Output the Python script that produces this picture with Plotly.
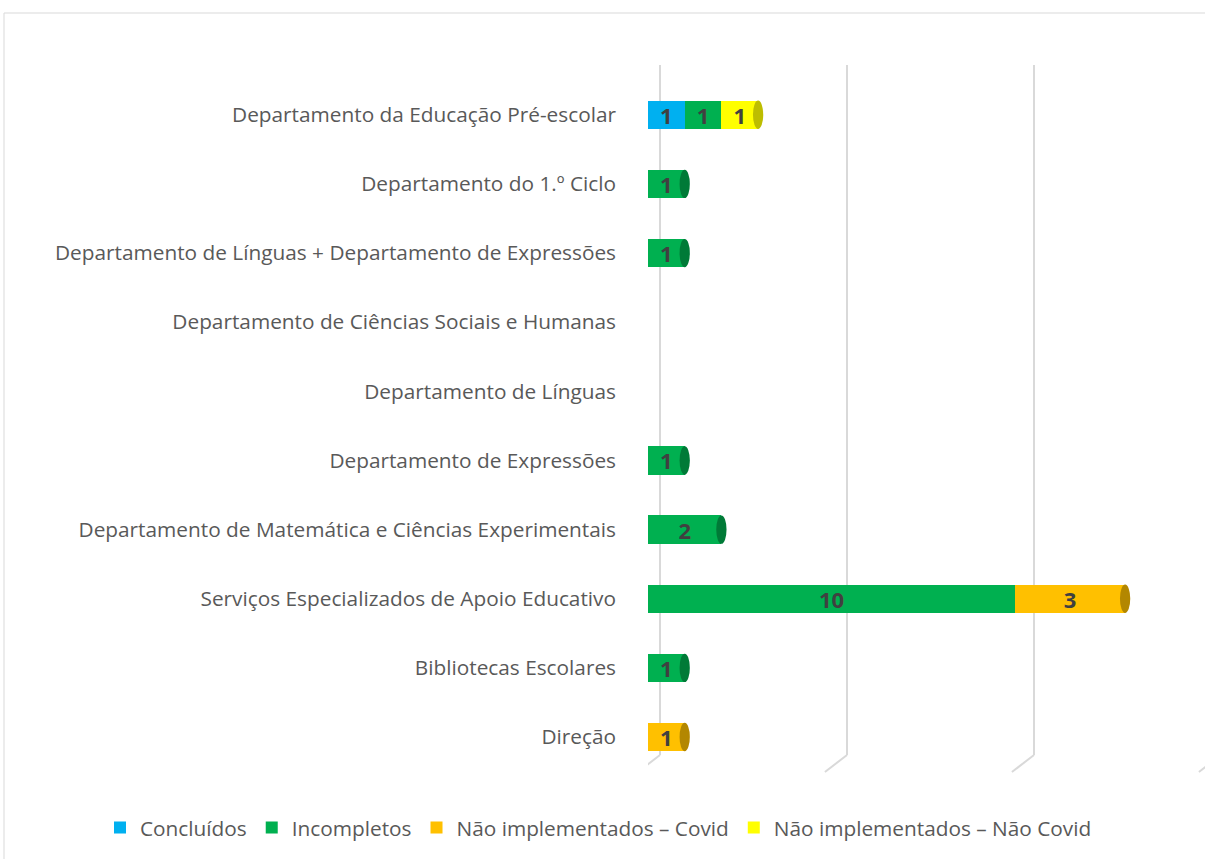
import plotly.graph_objects as go

# categories listed bottom -> top
categorias = [
    "Direção",
    "Bibliotecas Escolares",
    "Serviços Especializados de Apoio Educativo",
    "Departamento de Matemática e Ciências Experimentais",
    "Departamento de Expressões",
    "Departamento de Línguas",
    "Departamento de Ciências Sociais e Humanas",
    "Departamento de Línguas + Departamento de Expressões",
    "Departamento do 1.º Ciclo",
    "Departamento da Educação Pré-escolar",
]

concluidos = [None, None, None, None, None, None, None, None, None, 1]
incompletos = [None, 1, 10, 2, 1, None, None, 1, 1, 1]
nao_impl_covid = [1, None, 3, None, None, None, None, None, None, None]
nao_impl_nao_covid = [None, None, None, None, None, None, None, None, None, 1]

series = [
    ("Concluídos", concluidos, "#00B0F0", "#0084B4"),
    ("Incompletos", incompletos, "#00B050", "#007A37"),
    ("Não implementados – Covid", nao_impl_covid, "#FFC000", "#B38700"),
    ("Não implementados – Não Covid", nao_impl_nao_covid, "#FFFF00", "#BDBD00"),
]

grid_vals = [0, 5, 10, 15]

FONT = "Open Sans"
W, H = 1205, 859
L, R, T, B = 648, 0, 65, 104
plot_w = W - L - R
plot_h = H - T - B
BAR_W = 1 - 0.59

fig = go.Figure()
for nome, vals, cor, _ in series:
    fig.add_trace(go.Bar(
        y=categorias, x=vals, name=nome, orientation="h",
        marker=dict(color=cor, line=dict(width=0)),
        text=[str(v) if v else "" for v in vals],
        textposition="inside", insidetextanchor="middle", textangle=0,
        constraintext="none",
        textfont=dict(family=FONT, size=22, color="#404040", weight="bold"),
    ))

# cylinder end caps: darker ellipse at the end of each stack
for i in range(len(categorias)):
    total, last_dark = 0, None
    for _, vals, _, dark in series:
        if vals[i]:
            total += vals[i]
            last_dark = dark
    if total:
        fig.add_shape(type="circle", xref="x", yref="y", layer="above",
                      x0=total - 0.14, x1=total + 0.14,
                      y0=i - BAR_W / 2, y1=i + BAR_W / 2,
                      fillcolor=last_dark, line=dict(width=0))

# invisible trace to carry the back-wall gridline axis
fig.add_trace(go.Scatter(x=grid_vals, y=[categorias[0]] * 4, xaxis="x2",
                         mode="markers", marker=dict(opacity=0),
                         showlegend=False, hoverinfo="skip"))

# floor lines (perspective diagonals)
for g in grid_vals:
    fig.add_shape(type="line", xref="x2", yref="paper",
                  x0=g, y0=0, x1=g - 0.59, y1=-17 / plot_h,
                  line=dict(color="#D9D9D9", width=2))

# outer chart border
fig.add_shape(type="rect", xref="paper", yref="paper",
              x0=(4 - L) / plot_w, x1=1.05,
              y0=-0.2, y1=(H - B - 13) / plot_h,
              line=dict(color="#D9D9D9", width=1))

fig.update_layout(
    width=W, height=H,
    margin=dict(l=L, r=R, t=T, b=B),
    barmode="stack", bargap=0.59,
    plot_bgcolor="white", paper_bgcolor="white",
    font=dict(family=FONT, size=20.8, color="#595959"),
    showlegend=True,
    legend=dict(orientation="h", traceorder="normal",
                x=(100 - L) / plot_w, xanchor="left",
                y=(H - B - 828) / plot_h, yanchor="middle",
                font=dict(size=20.8, color="#595959"),
                itemwidth=30),
    xaxis=dict(range=[0, plot_w / 36.7], showgrid=False,
               showticklabels=False, zeroline=False, showline=False, ticks=""),
    xaxis2=dict(overlaying="x", anchor="y", range=[-12 / 37.4, (plot_w - 12) / 37.4],
                tickvals=grid_vals, showgrid=True, gridcolor="#D9D9D9", gridwidth=2,
                showticklabels=False, zeroline=False, showline=False, ticks=""),
    yaxis=dict(type="category", categoryorder="array", categoryarray=categorias,
               range=[-0.26, 9.72], showgrid=False, zeroline=False, showline=False,
               ticks="", ticklabelstandoff=31,
               tickfont=dict(size=20.8, color="#595959")),
)

fig.write_html("out.html", config={"displayModeBar": False},
               post_script="document.body.style.margin='0';")
